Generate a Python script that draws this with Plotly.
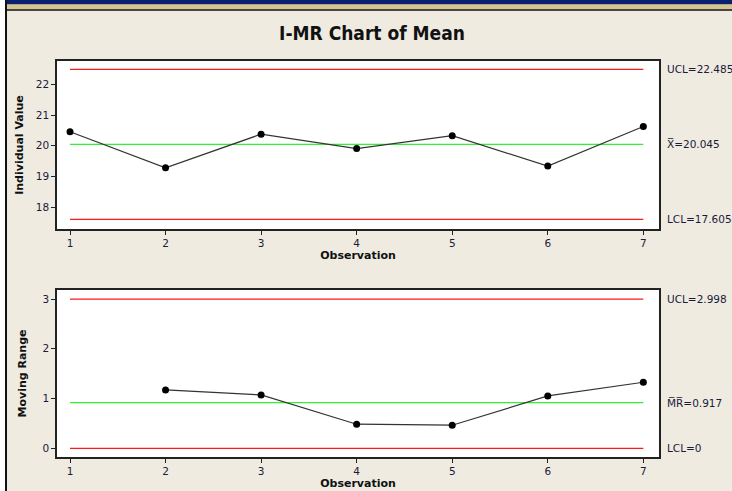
import plotly.graph_objects as go

# ---- data ----
observations = [1, 2, 3, 4, 5, 6, 7]
individual_values = [20.455, 19.286, 20.377, 19.91, 20.33, 19.34, 20.63]
mr_observations = [2, 3, 4, 5, 6, 7]
moving_ranges = [1.173, 1.072, 0.484, 0.464, 1.052, 1.327]

i_ucl, i_center, i_lcl = 22.485, 20.045, 17.605
mr_ucl, mr_center, mr_lcl = 2.998, 0.917, 0.0

i_labels = ["UCL=22.485", "X\u0305=20.045", "LCL=17.605"]
mr_labels = ["UCL=2.998", "M\u0305R\u0305=0.917", "LCL=0"]

x_ticks = [1, 2, 3, 4, 5, 6, 7]
i_ticks = [18, 19, 20, 21, 22]
mr_ticks = [0, 1, 2, 3]

W, H = 732, 491
BG = "#EFEBE1"
RED = "#FF1A1A"
GREEN = "#33F033"
FONT = "DejaVu Sans"

fig = go.Figure()

def px_x(p):
    return p / W

def px_y(p):
    return 1 - p / H

xlim = [observations[0], observations[-1]]

# control lines + data, top chart
for val, col in [(i_ucl, RED), (i_lcl, RED), (i_center, GREEN)]:
    fig.add_trace(go.Scatter(x=xlim, y=[val, val], mode="lines",
                             line=dict(color=col, width=1.3),
                             xaxis="x", yaxis="y", hoverinfo="skip"))
fig.add_trace(go.Scatter(x=observations, y=individual_values, mode="lines+markers",
                         line=dict(color="#333333", width=1.2),
                         marker=dict(color="black", size=7),
                         xaxis="x", yaxis="y"))

# bottom chart
for val, col in [(mr_ucl, RED), (mr_lcl, RED), (mr_center, GREEN)]:
    fig.add_trace(go.Scatter(x=xlim, y=[val, val], mode="lines",
                             line=dict(color=col, width=1.3),
                             xaxis="x2", yaxis="y2", hoverinfo="skip"))
fig.add_trace(go.Scatter(x=mr_observations, y=moving_ranges, mode="lines+markers",
                         line=dict(color="#333333", width=1.2),
                         marker=dict(color="black", size=7),
                         xaxis="x2", yaxis="y2"))

xdom = [px_x(57), px_x(659)]
axis_common = dict(showline=True, linecolor="#222222", linewidth=1.5, mirror=True,
                   ticks="outside", ticklen=4, tickcolor="#222222", showgrid=False,
                   zeroline=False, tickfont=dict(family=FONT, size=10.5, color="#1a1a3a"))

xaxis_common = dict(axis_common, range=[0.864, 7.164], tickvals=x_ticks,
                    title=dict(text="Observation", standoff=2,
                               font=dict(family=FONT, size=11, color="#111111", weight="bold")))

fig.update_layout(
    width=W, height=H,
    margin=dict(l=0, r=0, t=0, b=0),
    paper_bgcolor=BG, plot_bgcolor="white",
    showlegend=False,
    xaxis=dict(xaxis_common, domain=xdom, anchor="y"),
    yaxis=dict(axis_common, domain=[px_y(229), px_y(61)], range=[17.294, 22.758],
               tickvals=i_ticks, anchor="x",
               title=dict(text="Individual Value", standoff=10,
                          font=dict(family=FONT, size=11, color="#111111", weight="bold"))),
    xaxis2=dict(xaxis_common, domain=xdom, anchor="y2"),
    yaxis2=dict(axis_common, domain=[px_y(457), px_y(290)], range=[-0.175, 3.181],
                tickvals=mr_ticks, anchor="x2",
                title=dict(text="Moving Range", standoff=14,
                           font=dict(family=FONT, size=11, color="#111111", weight="bold"))),
    title=dict(text="I-MR Chart of Mean", x=px_x(372), xanchor="center",
               y=px_y(33), yanchor="middle",
               font=dict(family="DejaVu Sans Condensed, DejaVu Sans", size=19,
                         color="#111111", weight="bold")),
)

ann_font = dict(family=FONT, size=10.5, color="#1a1a3a")
for val, lab in zip([i_ucl, i_center, i_lcl], i_labels):
    fig.add_annotation(x=px_x(665), xref="paper", y=val, yref="y", text=lab,
                       showarrow=False, xanchor="left", yanchor="middle", font=ann_font)
for val, lab in zip([mr_ucl, mr_center, mr_lcl], mr_labels):
    fig.add_annotation(x=px_x(665), xref="paper", y=val, yref="y2", text=lab,
                       showarrow=False, xanchor="left", yanchor="middle", font=ann_font)

# window chrome
shapes = [
    dict(type="rect", xref="paper", yref="paper", x0=px_x(5), x1=1, y0=px_y(4.5), y1=1,
         fillcolor="#0A1F6E", line=dict(width=0), layer="above"),
    dict(type="rect", xref="paper", yref="paper", x0=px_x(5), x1=1, y0=px_y(9.3), y1=px_y(4.5),
         fillcolor="#D6C38E", line=dict(width=0), layer="above"),
    dict(type="rect", xref="paper", yref="paper", x0=px_x(5), x1=1, y0=px_y(10.8), y1=px_y(9.3),
         fillcolor="#111111", line=dict(width=0), layer="above"),
    dict(type="rect", xref="paper", yref="paper", x0=0, x1=px_x(5), y0=0, y1=1,
         fillcolor="white", line=dict(width=0), layer="above"),
    dict(type="rect", xref="paper", yref="paper", x0=px_x(5), x1=px_x(7), y0=0, y1=1,
         fillcolor="#111111", line=dict(width=0), layer="above"),
]
fig.update_layout(shapes=shapes)

fig.write_html("out.html", config={"displayModeBar": False},
               post_script="document.body.style.margin='0';document.body.style.overflow='hidden';")
